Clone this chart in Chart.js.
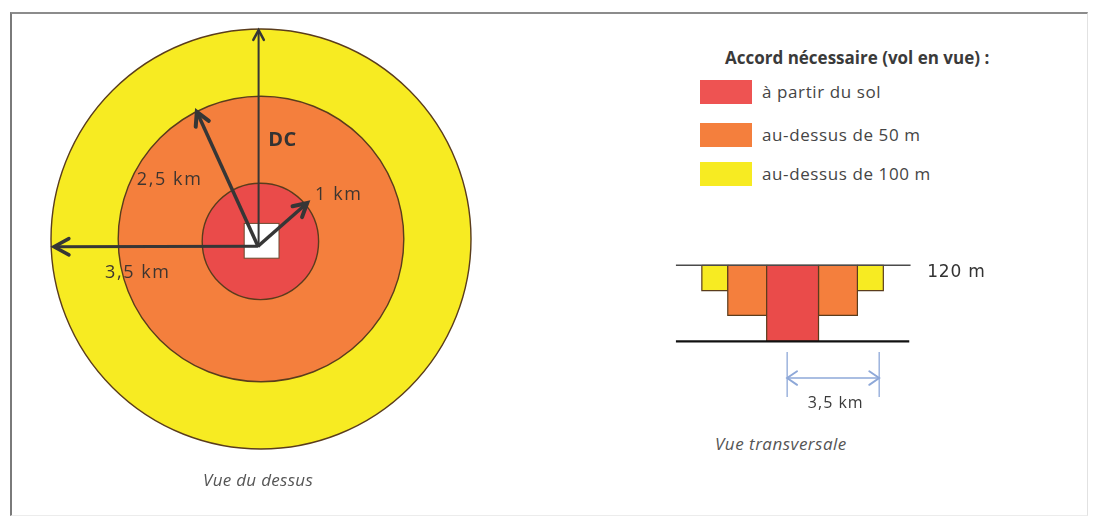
<!DOCTYPE html>
<html><head><meta charset="utf-8">
<script src="https://cdn.jsdelivr.net/npm/chart.js@4.4.1/dist/chart.umd.min.js"></script>
<style>
html,body{margin:0;padding:0;background:#fff;width:1093px;height:517px;overflow:hidden;position:relative;font-family:'Open Sans',Lato,sans-serif;}
#frame{position:absolute;left:10px;top:12px;width:1078px;height:504px;border-top:2px solid #8c8c8c;border-left:2px solid #7a7a7a;border-right:1px solid #e2e2e2;border-bottom:1px solid #ececec;box-sizing:border-box;}
#c1{position:absolute;left:21px;top:-1px;}
#c2{position:absolute;left:650px;top:240px;}
.t{position:absolute;white-space:nowrap;color:#444;}
.box{position:absolute;left:700px;width:52px;height:24px;}
</style></head>
<body>
<div id="frame"></div>
<canvas id="c1" width="480" height="480"></canvas>
<canvas id="c2" width="350" height="190"></canvas>
<div id="legend"></div>
<div class="t" style="left:203px;top:468px;font-size:17px;line-height:24px;letter-spacing:0.3px;font-style:italic;color:#555">Vue du dessus</div>
<div class="t" style="left:715px;top:432px;font-size:17px;line-height:24px;letter-spacing:0.5px;font-style:italic;color:#555">Vue transversale</div>
<script>
// ---------- data ----------
const legendTitle = 'Accord nécessaire (vol en vue) :';
const zoneLabels = ['à partir du sol', 'au-dessus de 50 m', 'au-dessus de 100 m'];
const zoneRadiusKm = [1, 2.5, 3.5];            // cross-section (to scale)
const zoneRadiusTopView = [0.97, 2.38, 3.5];   // top view, as drawn
const zoneFloorM = [0, 41, 80];                // cross-section floors, as drawn
const ceilingM = 120;
const radiusLabels = ['1 km', '2,5 km', '3,5 km'];
const centerLabel = 'DC';
const arrowOrigin = {x: -0.05, y: -0.12};
const arrowTips = [{x: 0.77, y: 0.6}, {x: -1.07, y: 2.12}, {x: -3.45, y: -0.13}, {x: -0.04, y: 3.48}];
const siteHalfKm = 0.29;
const siteCenter = {x: 0.01, y: -0.03};
const innerZoneCenter = {x: -0.01, y: -0.04};
const groundSpanKm = [-4.5, 4.5];
const ceilingSpanKm = [-4.5, 4.55];
const dimensionKm = [-0.21, 3.34];
const dimensionTickM = [-17, -88];
const dimensionArrowM = -58;
const dimensionLabel = '3,5 km';
const ceilingLabel = '120 m';

// ---------- styles ----------
const zoneColors = ['#EA4B4A', '#F47F3D', '#F7EB22'];
const legendColors = ['#EE5352', '#F47F3D', '#F7EB22'];
const zoneBorder = '#5a3c1c';
const arrowColor = '#363636';
const dimColor = '#8ea8d8';

// ---------- legend (HTML) ----------
const lg = document.getElementById('legend');
lg.innerHTML = `<div class="t" style="left:725px;top:46px;font-size:17px;line-height:24px;font-weight:bold;color:#3a3a3a">${legendTitle}</div>` +
  zoneLabels.map((l, i) => {
    const tops = [80, 123, 162];
    return `<div class="box" style="top:${tops[i]}px;background:${legendColors[i]}"></div>` +
      `<div class="t" style="left:762px;top:${tops[i]}px;font-size:17px;line-height:24px;letter-spacing:0.6px;color:#454545">${l}</div>`;
  }).join('');

// ---------- helpers ----------
function drawHead(ctx, tip, from, len, spread) {
  const a = Math.atan2(tip.y - from.y, tip.x - from.x);
  ctx.beginPath();
  ctx.moveTo(tip.x - len * Math.cos(a - spread), tip.y - len * Math.sin(a - spread));
  ctx.lineTo(tip.x, tip.y);
  ctx.lineTo(tip.x - len * Math.cos(a + spread), tip.y - len * Math.sin(a + spread));
  ctx.stroke();
}
const arrowPlugin = {
  id: 'arrowHeads',
  afterDatasetsDraw(chart) {
    const ctx = chart.ctx;
    chart.data.datasets.forEach((ds, i) => {
      if (!ds.head) return;
      const pts = chart.getDatasetMeta(i).data;
      const a = pts[0], b = pts[pts.length - 1];
      ctx.save();
      ctx.strokeStyle = ds.borderColor;
      ctx.lineWidth = ds.borderWidth + 0.5;
      ctx.lineJoin = 'miter';
      ctx.lineCap = 'round';
      drawHead(ctx, b, a, ds.head, ds.spread || 0.55);
      if (ds.both) drawHead(ctx, a, b, ds.head, ds.spread || 0.55);
      ctx.restore();
    });
  }
};

// ---------- top view ----------
const topViewPlugin = {
  id: 'topView',
  beforeDatasetsDraw(chart) {
    const {ctx, scales: {x, y}} = chart;
    ctx.save();
    for (let i = zoneRadiusTopView.length - 1; i >= 0; i--) {
      const c = i === 0 ? innerZoneCenter : {x: 0, y: 0};
      const cx = x.getPixelForValue(c.x), cy = y.getPixelForValue(c.y);
      const r = x.getPixelForValue(c.x + zoneRadiusTopView[i]) - cx;
      ctx.beginPath();
      ctx.arc(cx, cy, r, 0, Math.PI * 2);
      ctx.fillStyle = zoneColors[i];
      ctx.fill();
      ctx.lineWidth = 1.4;
      ctx.strokeStyle = zoneBorder;
      ctx.stroke();
    }
    const x0 = x.getPixelForValue(siteCenter.x - siteHalfKm), x1 = x.getPixelForValue(siteCenter.x + siteHalfKm);
    const y0 = y.getPixelForValue(siteCenter.y + siteHalfKm), y1 = y.getPixelForValue(siteCenter.y - siteHalfKm);
    ctx.fillStyle = '#fff';
    ctx.fillRect(x0, y0, x1 - x0, y1 - y0);
    ctx.strokeStyle = '#6a4a30';
    ctx.lineWidth = 1;
    ctx.strokeRect(x0, y0, x1 - x0, y1 - y0);
    ctx.restore();
  },
  afterDatasetsDraw(chart) {
    const {ctx, scales: {x, y}} = chart;
    const labels = [
      {t: centerLabel, px: 0.12, py: 1.65, font: 'bold 20px "Open Sans"', color: '#333', ls: '0.5px'},
      {t: radiusLabels[1], px: -2.07, py: 0.98, font: '18px "Open Sans"', color: '#3d3530', ls: '1.6px'},
      {t: radiusLabels[0], px: 0.9, py: 0.73, font: '18px "Open Sans"', color: '#3d3530', ls: '1.6px'},
      {t: radiusLabels[2], px: -2.6, py: -0.57, font: '18px "Open Sans"', color: '#3d3530', ls: '1.6px'}
    ];
    ctx.save();
    ctx.textAlign = 'left';
    ctx.textBaseline = 'middle';
    labels.forEach(l => {
      ctx.font = l.font;
      ctx.letterSpacing = l.ls;
      ctx.fillStyle = l.color;
      ctx.fillText(l.t, x.getPixelForValue(l.px), y.getPixelForValue(l.py));
    });
    ctx.restore();
  }
};

const arrowWidths = [3.5, 3.5, 3, 2];
const arrowHeads = [15, 15, 17, 11];
new Chart(document.getElementById('c1'), {
  type: 'line',
  data: {
    datasets: arrowTips.map((t, i) => ({
      data: [arrowOrigin, t],
      borderColor: arrowColor,
      borderWidth: arrowWidths[i],
      pointRadius: 0,
      fill: false,
      head: arrowHeads[i],
      spread: 0.5
    }))
  },
  options: {
    responsive: false, animation: false, events: [],
    layout: {padding: 0},
    plugins: {legend: {display: false}, tooltip: {enabled: false}},
    scales: {
      x: {type: 'linear', min: -4, max: 4, display: false},
      y: {type: 'linear', min: -4, max: 4, display: false}
    }
  },
  plugins: [topViewPlugin, arrowPlugin]
});

// ---------- cross-section ----------
function rect(a, b, floor) {
  return [{x: a, y: ceilingM}, {x: b, y: ceilingM}, {x: b, y: floor}, {x: a, y: floor}, {x: a, y: ceilingM}];
}
const csDatasets = [];
zoneRadiusKm.forEach((outer, i) => {
  const inner = i === 0 ? null : zoneRadiusKm[i - 1];
  const parts = inner === null ? [rect(-outer, outer, zoneFloorM[i])]
    : [rect(-outer, -inner, zoneFloorM[i]), rect(inner, outer, zoneFloorM[i])];
  parts.forEach(p => csDatasets.push({
    data: p, fill: 'shape', backgroundColor: zoneColors[i],
    borderColor: zoneBorder, borderWidth: 1.2, pointRadius: 0, order: 5, tension: 0
  }));
});
csDatasets.push({data: [{x: ceilingSpanKm[0], y: ceilingM}, {x: ceilingSpanKm[1], y: ceilingM}],
  borderColor: '#4a4a4a', borderWidth: 1.5, pointRadius: 0, fill: false, order: 1});
csDatasets.push({data: [{x: groundSpanKm[0], y: 0}, {x: groundSpanKm[1], y: 0}],
  borderColor: '#111', borderWidth: 2.2, pointRadius: 0, fill: false, order: 2});
dimensionKm.forEach(k => csDatasets.push({data: [{x: k, y: dimensionTickM[0]}, {x: k, y: dimensionTickM[1]}],
  borderColor: dimColor, borderWidth: 1.3, pointRadius: 0, fill: false, order: 1}));
csDatasets.push({data: [{x: dimensionKm[0], y: dimensionArrowM}, {x: dimensionKm[1], y: dimensionArrowM}],
  borderColor: dimColor, borderWidth: 1.4, pointRadius: 0, fill: false, order: 1, head: 12, both: true, spread: 0.6});

const csLabelPlugin = {
  id: 'csLabels',
  afterDatasetsDraw(chart) {
    const {ctx, scales: {x, y}} = chart;
    ctx.save();
    ctx.textBaseline = 'middle';
    ctx.fillStyle = '#333';
    ctx.font = '17px "DejaVu Sans"';
    ctx.letterSpacing = '0.8px';
    ctx.textAlign = 'left';
    ctx.fillText(ceilingLabel, x.getPixelForValue(5.19), y.getPixelForValue(ceilingM - 11));
    ctx.font = '16px "Open Sans"';
    ctx.letterSpacing = '1px';
    ctx.textAlign = 'center';
    ctx.fillStyle = '#3a3a3a';
    ctx.fillText(dimensionLabel, x.getPixelForValue((dimensionKm[0] + dimensionKm[1]) / 2 + 0.1), y.getPixelForValue(-98));
    ctx.restore();
  }
};

new Chart(document.getElementById('c2'), {
  type: 'line',
  data: {datasets: csDatasets},
  options: {
    responsive: false, animation: false, events: [],
    layout: {padding: 0},
    plugins: {legend: {display: false}, tooltip: {enabled: false}},
    scales: {
      x: {type: 'linear', min: -5.5, max: 8, display: false},
      y: {type: 'linear', min: -140, max: 160, display: false}
    }
  },
  plugins: [arrowPlugin, csLabelPlugin]
});
</script>
</body></html>
